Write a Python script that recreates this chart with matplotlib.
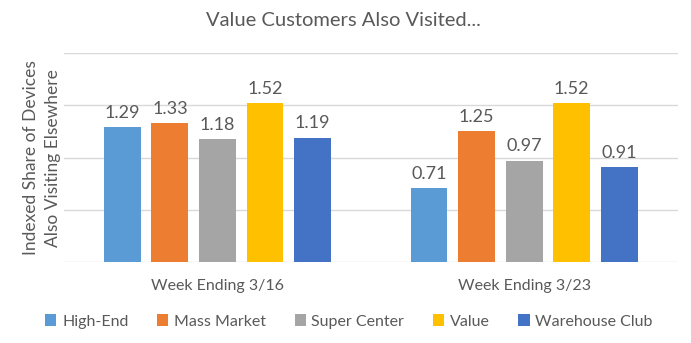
import matplotlib.pyplot as plt
import numpy as np

weeks = ["Week Ending 3/16", "Week Ending 3/23"]
segments = ["High-End", "Mass Market", "Super Center", "Value", "Warehouse Club"]
values = {
    "High-End": [1.29, 0.71],
    "Mass Market": [1.33, 1.25],
    "Super Center": [1.18, 0.97],
    "Value": [1.52, 1.52],
    "Warehouse Club": [1.19, 0.91],
}
colors = ["#5B9BD5", "#ED7D31", "#A5A5A5", "#FFC000", "#4472C4"]

plt.rcParams["font.family"] = ["Lato", "DejaVu Sans"]
text_color = "#595959"

fig = plt.figure(figsize=(6.91, 3.43), dpi=100)
ax = fig.add_axes([0.0926, 0.236, 0.888, 0.609])

x = np.arange(len(weeks))
step = 0.155
width = 0.12
for i, seg in enumerate(segments):
    pos = x + (i - 2) * step
    bars = ax.bar(pos, values[seg], width, color=colors[i], label=seg, zorder=3)
    for b, v in zip(bars, values[seg]):
        ax.text(b.get_x() + b.get_width() / 2, v + 0.06, f"{v:.2f}",
                ha="center", va="bottom", fontsize=13, color=text_color)

ax.set_xlim(-0.5, 1.5)
ax.set_ylim(0, 2)
ax.set_yticks([0, 0.5, 1.0, 1.5, 2.0])
ax.set_yticklabels([])
ax.tick_params(axis="y", length=0)
ax.tick_params(axis="x", length=0, pad=12)
ax.set_xticks(x)
ax.set_xticklabels(weeks, fontsize=11.5, color=text_color)
ax.grid(axis="y", color="#D9D9D9", linewidth=1, zorder=0)
for s in ax.spines.values():
    s.set_visible(False)

ax.set_ylabel("Indexed Share of Devices\nAlso Visiting Elsewhere", fontsize=12.5,
              color=text_color, labelpad=-1, linespacing=1.45)
fig.suptitle("Value Customers Also Visited...", fontsize=14.5, color=text_color,
             x=0.497, y=0.965, va="top")

fig.legend(loc="lower center", bbox_to_anchor=(0.505, 0.0), ncol=5, frameon=False,
           fontsize=11.5, labelcolor=text_color, handlelength=0.7, handleheight=0.7,
           handletextpad=0.35, columnspacing=1.8)

fig.savefig("out.png", dpi=100)
